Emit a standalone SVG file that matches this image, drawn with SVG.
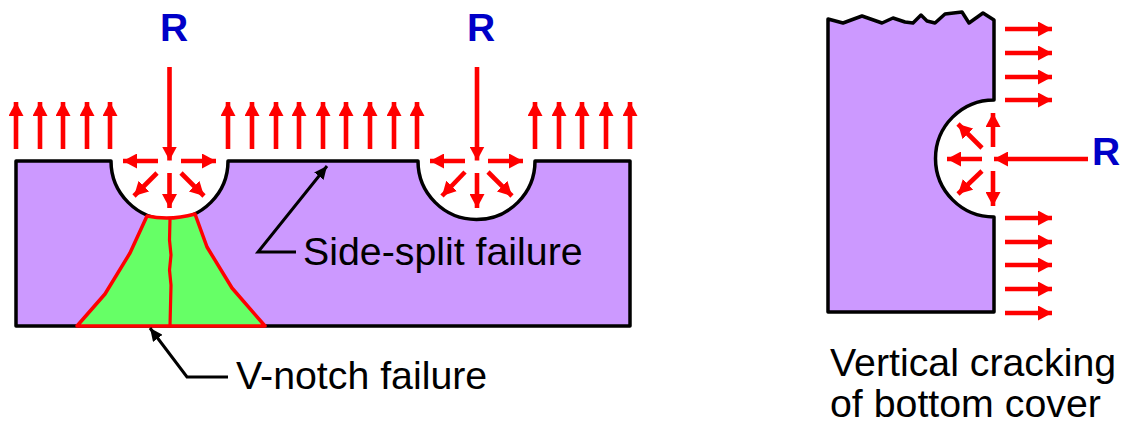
<svg xmlns="http://www.w3.org/2000/svg" width="1122" height="426" viewBox="0 0 1122 426">
<defs>
<marker id="rh" markerUnits="userSpaceOnUse" markerWidth="14" markerHeight="15" refX="14" refY="7.500" orient="auto"><path d="M0 0L14 7.500L0 15Z" fill="#f00"/></marker>
<marker id="kh" markerUnits="userSpaceOnUse" markerWidth="13" markerHeight="12" refX="13" refY="6" orient="auto"><path d="M0 0L13 6L0 12Z" fill="#000"/></marker>
</defs>
<style>
.block{fill:#cc99ff;stroke:#000;stroke-width:3.5;stroke-linejoin:round}
.green{fill:#66ff66;stroke:#f00;stroke-width:3.5;stroke-linejoin:round}
.crack{fill:none;stroke:#f00;stroke-width:3.2}
.r line{stroke:#f00;stroke-width:4.6;marker-end:url(#rh)}
.lead{fill:none;stroke:#000;stroke-width:3;marker-end:url(#kh);stroke-linejoin:miter}
.t{font-family:"Liberation Sans",Arial,sans-serif;font-size:39.3px;fill:#000}
.R{font-family:"Liberation Sans",Arial,sans-serif;font-size:39px;font-weight:700;fill:#0000c8;text-anchor:middle}
</style>
<g id="beam">
<path class="block" d="M16 161H111A58.5 58.5 0 0 0 228 161H418A58.5 58.5 0 0 0 535 161H630V326H16Z"/>
</g>
<g id="v-notch-zone">
<path class="green" d="M77 326L105 294L130 253L147 216Q170 221 195 214L207 247L232 288L265 326Z"/>
<path class="crack" d="M170 219L169.500 240L171 255L169.500 270L171 285L170 326"/>
</g>
<g id="cover">
<path class="block" d="M828 19L843 23L862 16L882 23L893 18L905 22L913 23L921 15L927 21L935 23L945 14L962 12L969 23L983 13L994 20V100A58.5 58.5 0 0 0 994 217V312H828Z"/>
</g>
<g id="connectors">
<g class="r">
<line x1="16" y1="149" x2="16" y2="102"/><line x1="40" y1="149" x2="40" y2="102"/><line x1="63" y1="149" x2="63" y2="102"/><line x1="87" y1="149" x2="87" y2="102"/><line x1="110" y1="149" x2="110" y2="102"/>
<line x1="228" y1="149" x2="228" y2="102"/><line x1="252" y1="149" x2="252" y2="102"/><line x1="276" y1="149" x2="276" y2="102"/><line x1="299" y1="149" x2="299" y2="102"/><line x1="323" y1="149" x2="323" y2="102"/><line x1="346" y1="149" x2="346" y2="102"/><line x1="370" y1="149" x2="370" y2="102"/><line x1="394" y1="149" x2="394" y2="102"/><line x1="417" y1="149" x2="417" y2="102"/>
<line x1="535" y1="149" x2="535" y2="102"/><line x1="559" y1="149" x2="559" y2="102"/><line x1="582" y1="149" x2="582" y2="102"/><line x1="606" y1="149" x2="606" y2="102"/><line x1="630" y1="149" x2="630" y2="102"/>
<line x1="169.500" y1="67" x2="169.500" y2="160.500"/>
<line x1="158" y1="161" x2="123" y2="161"/><line x1="181" y1="161" x2="216" y2="161"/><line x1="169.500" y1="173" x2="169.500" y2="208"/><line x1="157" y1="173" x2="134" y2="196"/><line x1="181" y1="173" x2="204" y2="196"/>
<line x1="477" y1="67" x2="477" y2="160.500"/>
<line x1="465" y1="161" x2="430" y2="161"/><line x1="488" y1="161" x2="523" y2="161"/><line x1="477" y1="173" x2="477" y2="208"/><line x1="465" y1="172" x2="442" y2="196"/><line x1="488" y1="172" x2="512" y2="196"/>
<line x1="1005" y1="29" x2="1052" y2="29"/><line x1="1005" y1="53" x2="1052" y2="53"/><line x1="1005" y1="77" x2="1052" y2="77"/><line x1="1005" y1="100" x2="1052" y2="100"/>
<line x1="1005" y1="218" x2="1052" y2="218"/><line x1="1005" y1="242" x2="1052" y2="242"/><line x1="1005" y1="265" x2="1052" y2="265"/><line x1="1005" y1="289" x2="1052" y2="289"/><line x1="1005" y1="313" x2="1052" y2="313"/>
<line x1="1088" y1="159" x2="994" y2="159"/>
<line x1="982" y1="159" x2="947" y2="159"/><line x1="993" y1="147" x2="993" y2="113"/><line x1="993" y1="171" x2="993" y2="206"/><line x1="982" y1="148" x2="958" y2="124"/><line x1="982" y1="171" x2="958" y2="194"/>
</g>
<path class="lead" d="M296 252H258L327 166"/>
<path class="lead" d="M228 377H187L150 328"/>
</g>
<g id="labels">
<text class="R" x="174" y="41">R</text>
<text class="R" x="481" y="41">R</text>
<text class="R" x="1106" y="165">R</text>
<text class="t" x="303" y="265">Side-split failure</text>
<text class="t" x="236" y="389">V-notch failure</text>
<text class="t" x="830" y="376">Vertical cracking</text>
<text class="t" x="830" y="417">of bottom cover</text>
</g>
</svg>
